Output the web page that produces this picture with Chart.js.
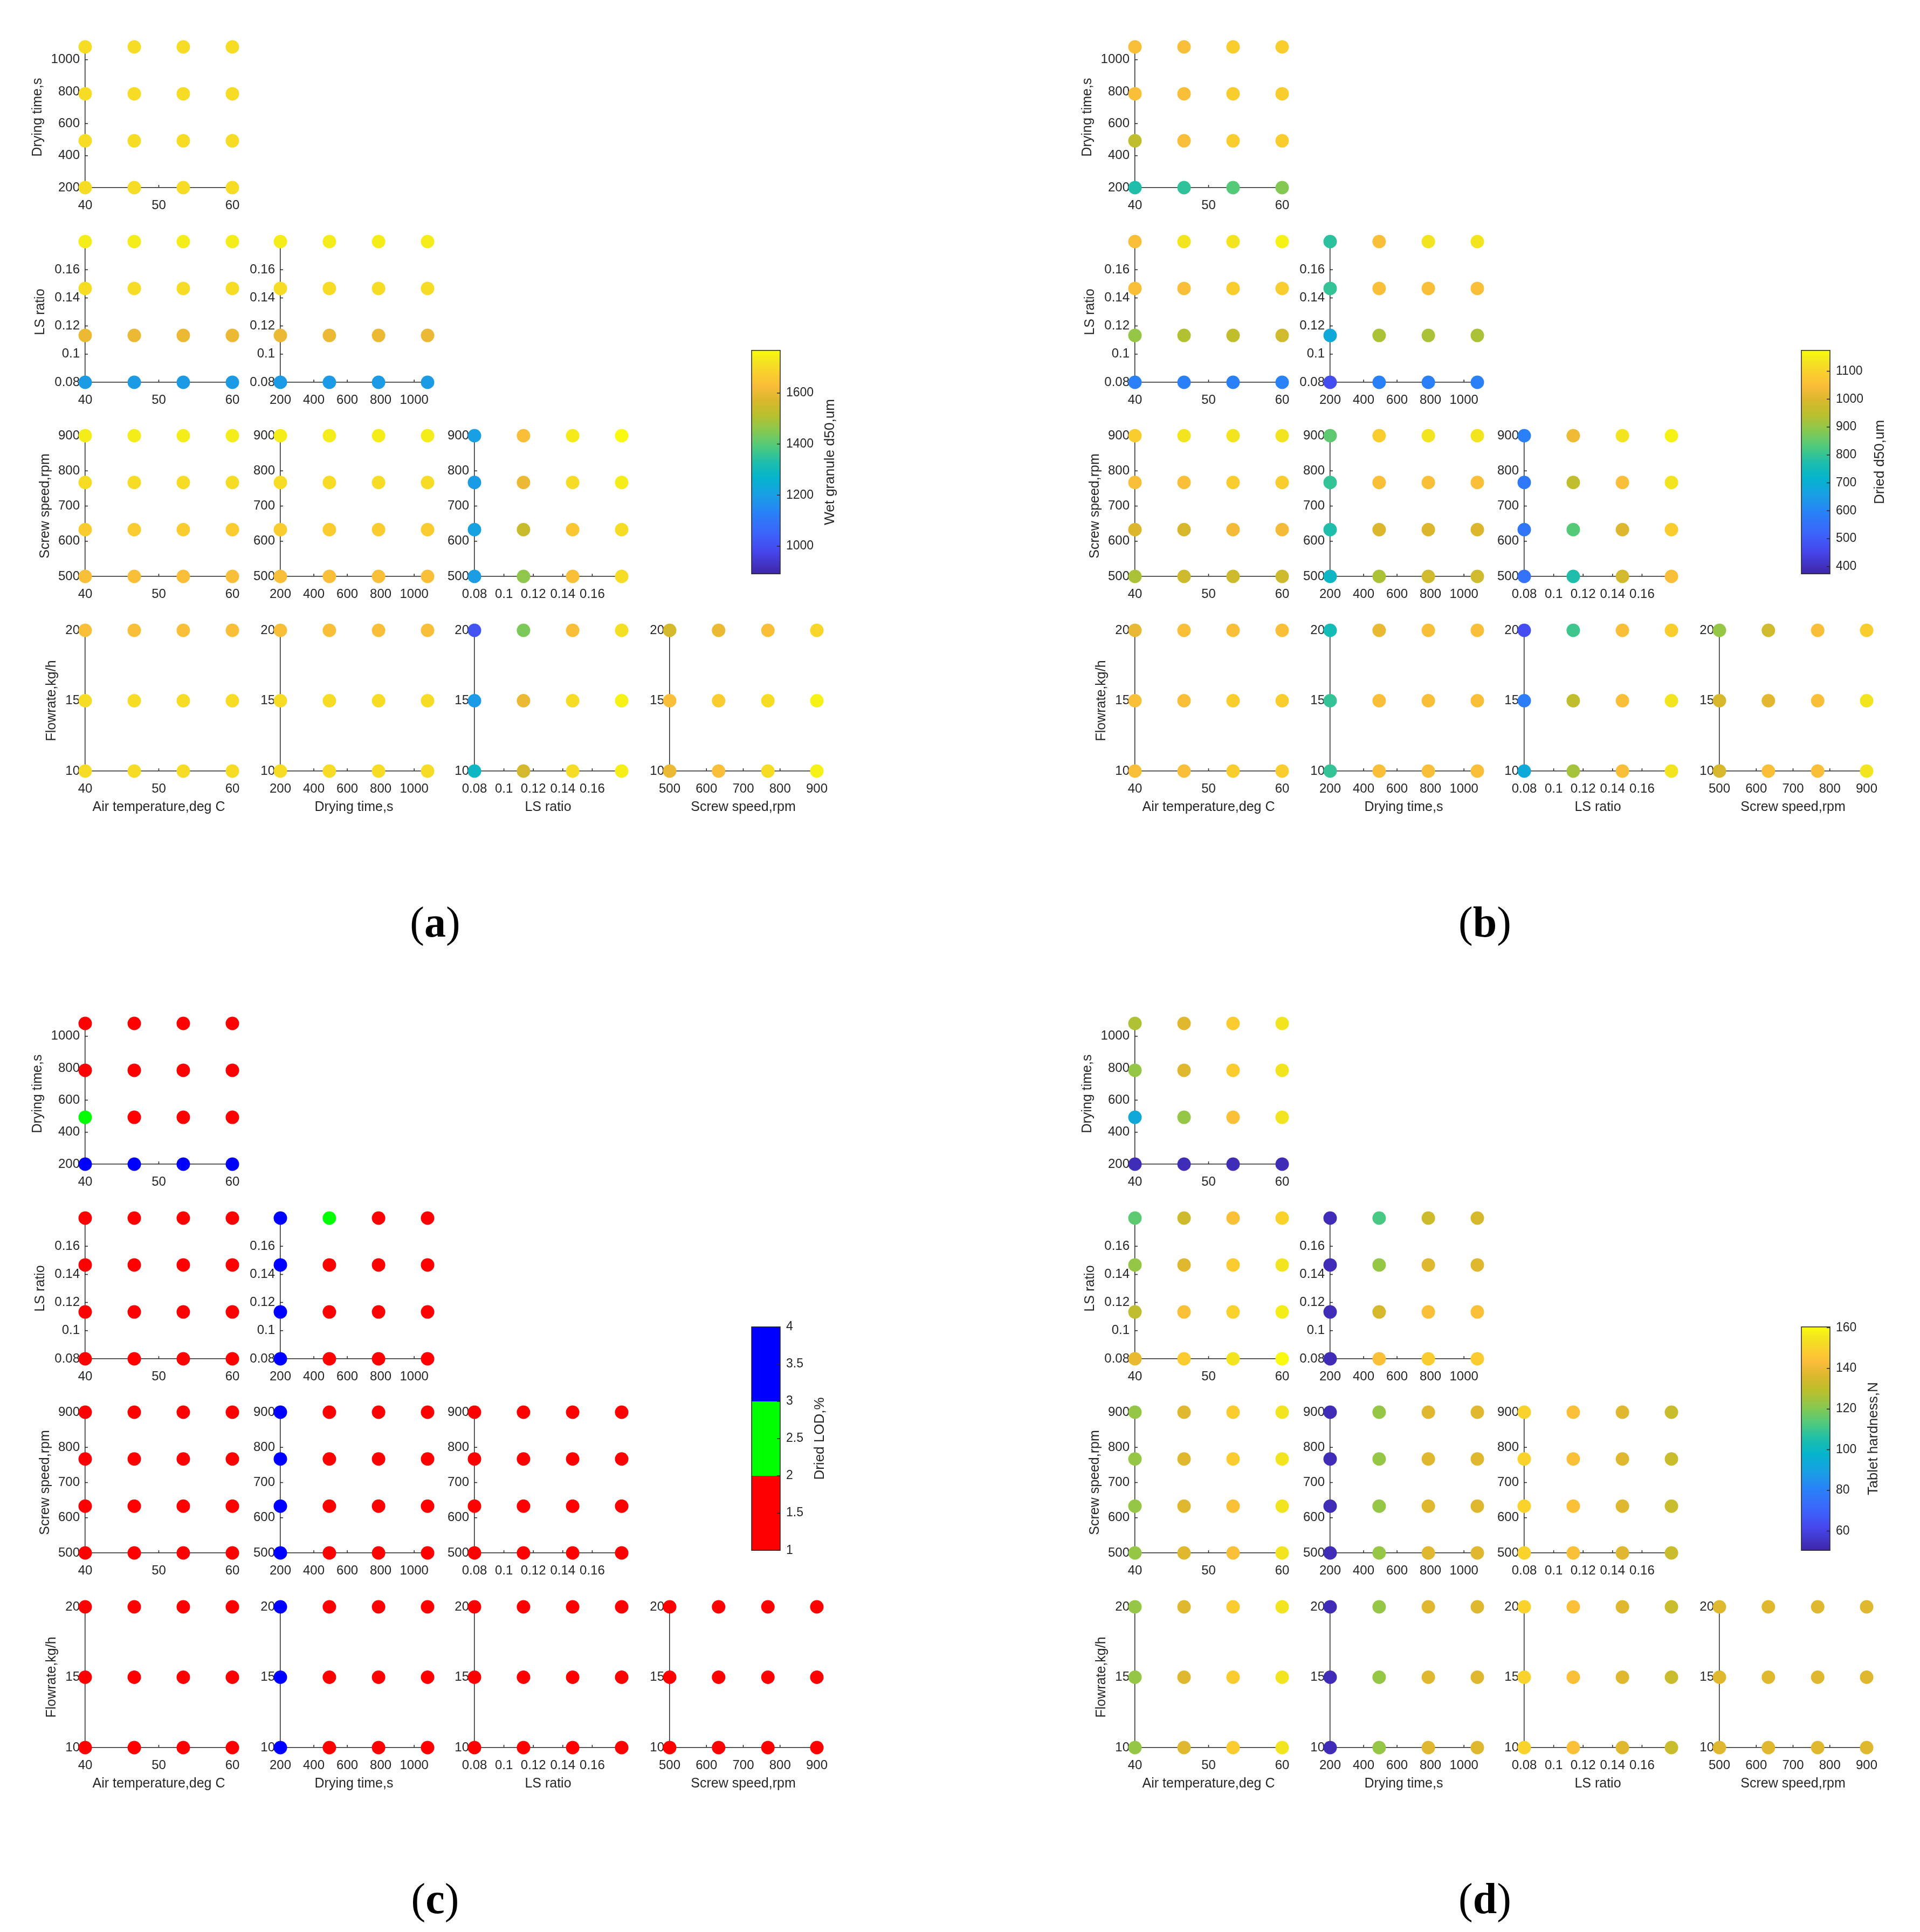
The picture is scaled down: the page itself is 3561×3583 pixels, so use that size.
<!DOCTYPE html>
<html>
<head>
<meta charset="utf-8">
<title>Scatter matrix of process factors</title>
<script src="https://cdn.jsdelivr.net/npm/chart.js@4.4.1/dist/chart.umd.min.js"></script>
<style>
  body { margin: 0; background: #fff; }
  #page { position: relative; width: 3561px; height: 3583px; overflow: hidden; background: #fff; }
  #page canvas { position: absolute; }
  .tag { position: absolute; width: 300px; text-align: center; font-family: 'Liberation Serif', 'Times New Roman', serif;
         font-size: 80px; line-height: 80px; color: #000; }
</style>
</head>
<body>
<div id="page"></div>
<script>
// factor levels (x / y positions of the grid points)
const airTemp = [40, 46.67, 53.33, 60];
const dryingTime = [200, 493, 787, 1080];
const lsRatio = [0.08, 0.1133, 0.1467, 0.18];
const screwSpeed = [500, 633, 767, 900];
const flowrate = [10, 15, 20];

// axis tick labels
const airTicks = [40, 50, 60];
const dryingTicks = [200, 400, 600, 800, 1000];
const lsTicks = [0.08, 0.1, 0.12, 0.14, 0.16];
const screwTicks = [500, 600, 700, 800, 900];
const flowTicks = [10, 15, 20];

// colorbar ticks and limits
const wetTicks = [1000, 1200, 1400, 1600];
const driedTicks = [400, 500, 600, 700, 800, 900, 1000, 1100];
const lodTicks = [1, 1.5, 2, 2.5, 3, 3.5, 4];
const hardTicks = [60, 80, 100, 120, 140, 160];
const wetRange = [892, 1767];
const driedRange = [374, 1175];
const lodRange = [1, 4];
const hardRange = [50.5, 160.4];

// responses: rows = y levels (low -> high), columns = x levels (low -> high)
// (a) wet granule d50, um
const wetDryAir = [[1705, 1705, 1705, 1705], [1705, 1705, 1705, 1705], [1705, 1705, 1705, 1705], [1705, 1705, 1705, 1705]];
const wetLsAir = [[1190, 1190, 1190, 1190], [1600, 1600, 1600, 1600], [1705, 1705, 1705, 1705], [1740, 1740, 1740, 1740]];
const wetLsDry = [[1190, 1190, 1190, 1190], [1600, 1600, 1600, 1600], [1705, 1705, 1705, 1705], [1740, 1740, 1740, 1740]];
const wetScrewAir = [[1636, 1636, 1636, 1636], [1670, 1670, 1670, 1670], [1705, 1705, 1705, 1705], [1740, 1740, 1740, 1740]];
const wetScrewDry = [[1636, 1636, 1636, 1636], [1670, 1670, 1670, 1670], [1705, 1705, 1705, 1705], [1740, 1740, 1740, 1740]];
const wetScrewLs = [[1195, 1460, 1636, 1705], [1210, 1540, 1655, 1705], [1190, 1600, 1705, 1740], [1200, 1636, 1735, 1765]];
const wetFlowAir = [[1705, 1705, 1705, 1705], [1705, 1705, 1705, 1705], [1636, 1636, 1636, 1636]];
const wetFlowDry = [[1705, 1705, 1705, 1705], [1705, 1705, 1705, 1705], [1636, 1636, 1636, 1636]];
const wetFlowLs = [[1285, 1560, 1705, 1745], [1190, 1600, 1705, 1750], [1010, 1440, 1636, 1715]];
const wetFlowScrew = [[1600, 1636, 1705, 1750], [1636, 1670, 1705, 1750], [1560, 1600, 1636, 1690]];

// (b) dried d50, um
const driedDryAir = [[775, 795, 835, 883], [955, 1055, 1087, 1087], [1055, 1055, 1087, 1087], [1055, 1055, 1087, 1087]];
const driedLsAir = [[590, 590, 590, 595], [903, 935, 955, 980], [1055, 1055, 1087, 1087], [1055, 1135, 1135, 1160]];
const driedLsDry = [[470, 590, 590, 590], [686, 927, 927, 927], [799, 1055, 1055, 1055], [790, 1055, 1135, 1135]];
const driedScrewAir = [[927, 975, 975, 975], [999, 990, 1035, 1035], [1055, 1055, 1087, 1087], [1087, 1135, 1135, 1135]];
const driedScrewDry = [[734, 927, 980, 980], [775, 999, 999, 999], [799, 1055, 1055, 1055], [845, 1087, 1135, 1135]];
const driedScrewLs = [[555, 775, 985, 1055], [565, 835, 1000, 1087], [570, 955, 1055, 1135], [590, 1030, 1135, 1160]];
const driedFlowAir = [[1055, 1055, 1087, 1087], [1055, 1055, 1087, 1087], [1020, 1055, 1055, 1055]];
const driedFlowDry = [[799, 1055, 1055, 1055], [799, 1055, 1055, 1055], [755, 1020, 1055, 1055]];
const driedFlowLs = [[686, 920, 1055, 1135], [580, 955, 1055, 1135], [470, 810, 1055, 1087]];
const driedFlowScrew = [[990, 1055, 1055, 1135], [990, 1010, 1055, 1135], [903, 980, 1055, 1087]];

// (c) dried LOD, %
const lodDryAir = [[3.5, 3.5, 3.5, 3.5], [2.5, 1.5, 1.5, 1.5], [1.5, 1.5, 1.5, 1.5], [1.5, 1.5, 1.5, 1.5]];
const lodLsAir = [[1.5, 1.5, 1.5, 1.5], [1.5, 1.5, 1.5, 1.5], [1.5, 1.5, 1.5, 1.5], [1.5, 1.5, 1.5, 1.5]];
const lodLsDry = [[3.5, 1.5, 1.5, 1.5], [3.5, 1.5, 1.5, 1.5], [3.5, 1.5, 1.5, 1.5], [3.5, 2.5, 1.5, 1.5]];
const lodScrewAir = [[1.5, 1.5, 1.5, 1.5], [1.5, 1.5, 1.5, 1.5], [1.5, 1.5, 1.5, 1.5], [1.5, 1.5, 1.5, 1.5]];
const lodScrewDry = [[3.5, 1.5, 1.5, 1.5], [3.5, 1.5, 1.5, 1.5], [3.5, 1.5, 1.5, 1.5], [3.5, 1.5, 1.5, 1.5]];
const lodScrewLs = [[1.5, 1.5, 1.5, 1.5], [1.5, 1.5, 1.5, 1.5], [1.5, 1.5, 1.5, 1.5], [1.5, 1.5, 1.5, 1.5]];
const lodFlowAir = [[1.5, 1.5, 1.5, 1.5], [1.5, 1.5, 1.5, 1.5], [1.5, 1.5, 1.5, 1.5]];
const lodFlowDry = [[3.5, 1.5, 1.5, 1.5], [3.5, 1.5, 1.5, 1.5], [3.5, 1.5, 1.5, 1.5]];
const lodFlowLs = [[1.5, 1.5, 1.5, 1.5], [1.5, 1.5, 1.5, 1.5], [1.5, 1.5, 1.5, 1.5]];
const lodFlowScrew = [[1.5, 1.5, 1.5, 1.5], [1.5, 1.5, 1.5, 1.5], [1.5, 1.5, 1.5, 1.5]];

// (d) tablet hardness, N
const hardDryAir = [[53, 53, 53, 53], [93, 123, 144, 155], [123, 137, 148, 155], [127, 137, 148, 155]];
const hardLsAir = [[139, 148, 155, 160], [130, 144, 150, 157], [123, 137, 148, 155], [115, 133, 144, 150]];
const hardLsDry = [[53, 144, 148, 148], [53, 135, 144, 144], [53, 123, 137, 137], [53, 112, 133, 135]];
const hardScrewAir = [[123, 137, 144, 155], [123, 137, 144, 155], [123, 137, 148, 155], [123, 137, 148, 155]];
const hardScrewDry = [[53, 123, 137, 137], [53, 123, 137, 137], [53, 123, 137, 137], [53, 123, 137, 137]];
const hardScrewLs = [[150, 144, 137, 132], [150, 144, 137, 132], [150, 144, 137, 132], [150, 144, 137, 132]];
const hardFlowAir = [[123, 137, 148, 155], [123, 137, 148, 155], [123, 137, 148, 155]];
const hardFlowDry = [[53, 123, 137, 137], [53, 123, 137, 137], [53, 123, 137, 137]];
const hardFlowLs = [[150, 144, 137, 132], [150, 144, 137, 132], [150, 144, 137, 132]];
const hardFlowScrew = [[137, 137, 137, 137], [137, 137, 137, 137], [137, 137, 137, 137]];

const FONT = "'Liberation Sans', Arial, Helvetica, sans-serif";
const INK = '#262626';

// parula-like colormap
const PARULA = [
  [0, [62, 38, 168]], [0.10, [70, 70, 235]], [0.18, [60, 100, 250]], [0.27, [42, 128, 248]],
  [0.35, [25, 158, 228]], [0.43, [5, 180, 205]], [0.50, [30, 190, 170]], [0.57, [80, 202, 125]],
  [0.64, [135, 200, 80]], [0.71, [185, 192, 45]], [0.78, [220, 183, 45]], [0.84, [250, 188, 58]],
  [0.90, [250, 208, 45]], [0.95, [243, 228, 32]], [1, [249, 251, 14]]
];
const PARULA_STOPS = PARULA.map(([t, c]) => [t, `rgb(${c.join(',')})`]);
const LOD_COLORS = ['#ff0000', '#00ff00', '#0000ff'];
const LOD_STOPS = [[0, '#ff0000'], [1 / 3, '#ff0000'], [1 / 3, '#00ff00'], [2 / 3, '#00ff00'], [2 / 3, '#0000ff'], [1, '#0000ff']];

function parula(v, range) {
  const t = Math.min(1, Math.max(0, (v - range[0]) / (range[1] - range[0])));
  for (let i = 1; i < PARULA.length; i++) {
    const [t1, c1] = PARULA[i];
    if (t <= t1) {
      const [t0, c0] = PARULA[i - 1];
      const f = (t - t0) / (t1 - t0);
      return `rgb(${c0.map((c, k) => Math.round(c + (c1[k] - c) * f)).join(',')})`;
    }
  }
  return 'rgb(249,251,14)';
}

function lodColor(v, range) {
  const i = Math.floor((v - range[0]) / (range[1] - range[0]) * 3);
  return LOD_COLORS[Math.min(2, Math.max(0, i))];
}

const FACTORS = {
  air: { levels: airTemp, ticks: airTicks, title: 'Air temperature,deg C' },
  drying: { levels: dryingTime, ticks: dryingTicks, title: 'Drying time,s' },
  ls: { levels: lsRatio, ticks: lsTicks, title: 'LS ratio' },
  screw: { levels: screwSpeed, ticks: screwTicks, title: 'Screw speed,rpm' },
  flow: { levels: flowrate, ticks: flowTicks, title: 'Flowrate,kg/h' }
};
const ROW_VARS = ['drying', 'ls', 'screw', 'flow'];
const COL_VARS = ['air', 'drying', 'ls', 'screw'];

const PANELS = [
  { tag: 'a', dx: 0, dy: 0, cmap: parula, stops: PARULA_STOPS, range: wetRange, ticks: wetTicks, label: 'Wet granule d50,um',
    grids: [[wetDryAir], [wetLsAir, wetLsDry], [wetScrewAir, wetScrewDry, wetScrewLs], [wetFlowAir, wetFlowDry, wetFlowLs, wetFlowScrew]] },
  { tag: 'b', dx: 1947, dy: 0, cmap: parula, stops: PARULA_STOPS, range: driedRange, ticks: driedTicks, label: 'Dried d50,um',
    grids: [[driedDryAir], [driedLsAir, driedLsDry], [driedScrewAir, driedScrewDry, driedScrewLs], [driedFlowAir, driedFlowDry, driedFlowLs, driedFlowScrew]] },
  { tag: 'c', dx: 0, dy: 1811, cmap: lodColor, stops: LOD_STOPS, range: lodRange, ticks: lodTicks, label: 'Dried LOD,%',
    grids: [[lodDryAir], [lodLsAir, lodLsDry], [lodScrewAir, lodScrewDry, lodScrewLs], [lodFlowAir, lodFlowDry, lodFlowLs, lodFlowScrew]] },
  { tag: 'd', dx: 1947, dy: 1811, cmap: parula, stops: PARULA_STOPS, range: hardRange, ticks: hardTicks, label: 'Tablet hardness,N',
    grids: [[hardDryAir], [hardLsAir, hardLsDry], [hardScrewAir, hardScrewDry, hardScrewLs], [hardFlowAir, hardFlowDry, hardFlowLs, hardFlowScrew]] }
];

// layout (page pixels, panel a)
const COL_LEFT = [158, 520, 880, 1242];
const ROW_TOP = [87, 448, 808, 1169];
const AX_W = 273, AX_H = 261;
const PAD_L = 140, PAD_T = 30, PAD_R = 40, PAD_B = 100;
const YTITLE_GAP = [88, 83, 74, 62];
const CB_LEFT = 1394, CB_TOP = 645, CB_W = 53, CB_H = 424;

const page = document.getElementById('page');

function makeCanvas(left, top, w, h) {
  const c = document.createElement('canvas');
  c.width = w; c.height = h;
  c.style.left = left + 'px'; c.style.top = top + 'px';
  c.style.width = w + 'px'; c.style.height = h + 'px';
  page.appendChild(c);
  return c;
}

// small tick marks pointing into the axes
const innerTicks = {
  id: 'innerTicks',
  beforeDatasetsDraw(chart) {
    const { ctx, chartArea: a, scales: { x, y } } = chart;
    ctx.save();
    ctx.strokeStyle = INK;
    ctx.lineWidth = 1.5;
    ctx.beginPath();
    x.ticks.forEach(t => { const px = x.getPixelForValue(t.value); ctx.moveTo(px, a.bottom); ctx.lineTo(px, a.bottom - 5); });
    y.ticks.forEach(t => { const py = y.getPixelForValue(t.value); ctx.moveTo(a.left, py); ctx.lineTo(a.left + 5, py); });
    ctx.stroke();
    ctx.restore();
  }
};

// frame, inner ticks and rotated label of the colorbar
const colorbarDeco = {
  id: 'colorbarDeco',
  afterDraw(chart, args, opts) {
    const { ctx, chartArea: a, scales: { y } } = chart;
    ctx.save();
    ctx.strokeStyle = INK;
    ctx.lineWidth = 1.5;
    ctx.strokeRect(a.left, a.top, a.right - a.left, a.bottom - a.top);
    ctx.beginPath();
    y.ticks.forEach(t => { const py = y.getPixelForValue(t.value); ctx.moveTo(a.right, py); ctx.lineTo(a.right - 6, py); });
    ctx.stroke();
    ctx.font = `23px ${FONT}`;
    const widest = Math.max(...y.ticks.map(t => ctx.measureText(String(t.label)).width));
    ctx.translate(a.right + 11 + widest + 31, (a.top + a.bottom) / 2);
    ctx.rotate(-Math.PI / 2);
    ctx.font = `26px ${FONT}`;
    ctx.fillStyle = INK;
    ctx.textAlign = 'center';
    ctx.textBaseline = 'middle';
    ctx.fillText(opts.text, 0, 0);
    ctx.restore();
  }
};

function axisOpts(f, horiz, showTitle, row) {
  return {
    type: 'linear',
    min: f.levels[0],
    max: f.levels[f.levels.length - 1],
    afterBuildTicks: s => { s.ticks = f.ticks.map(v => ({ value: v })); },
    afterFit: s => { if (horiz) s.height = PAD_B; else s.width = PAD_L; },
    grid: { display: false, drawTicks: false },
    border: { display: true, color: INK, width: 1.5 },
    ticks: {
      color: INK, font: { family: FONT, size: 24 }, padding: horiz ? 19 : 10,
      autoSkip: false, maxRotation: 0, minRotation: 0, callback: v => String(v)
    },
    title: {
      display: showTitle, text: f.title, color: INK, font: { family: FONT, size: 25 },
      padding: horiz ? { top: 0, bottom: PAD_B - 67 - 15 } : { top: PAD_L - YTITLE_GAP[row] - 15, bottom: 0 }
    }
  };
}

function subplot(p, r, c) {
  const fx = FACTORS[COL_VARS[c]], fy = FACTORS[ROW_VARS[r]];
  const grid = p.grids[r][c];
  const pts = [];
  fy.levels.forEach((yv, i) => fx.levels.forEach((xv, j) => pts.push({ x: xv, y: yv, v: grid[i][j] })));
  const canvas = makeCanvas(p.dx + COL_LEFT[c] - PAD_L, p.dy + ROW_TOP[r] - PAD_T,
    PAD_L + AX_W + PAD_R, PAD_T + AX_H + PAD_B);
  new Chart(canvas, {
    type: 'scatter',
    data: {
      datasets: [{
        data: pts,
        backgroundColor: pts.map(d => p.cmap(d.v, p.range)),
        pointRadius: 12.5,
        pointBorderWidth: 0,
        clip: false
      }]
    },
    options: {
      responsive: false, animation: false, devicePixelRatio: 1, events: [],
      layout: { padding: { left: 0, top: PAD_T, right: PAD_R, bottom: 0 } },
      plugins: { legend: { display: false }, tooltip: { enabled: false } },
      scales: {
        x: axisOpts(fx, true, r === 3, r),
        y: axisOpts(fy, false, c === 0, r)
      }
    },
    plugins: [innerTicks]
  });
}

function colorbar(p) {
  const canvas = makeCanvas(p.dx + CB_LEFT - 10, p.dy + CB_TOP - 20, 10 + CB_W + 170, CB_H + 40);
  new Chart(canvas, {
    type: 'bar',
    data: {
      labels: [p.label],
      datasets: [{
        data: [p.range],
        backgroundColor: ctx => {
          const a = ctx.chart.chartArea;
          if (!a) return 'transparent';
          const g = ctx.chart.ctx.createLinearGradient(0, a.bottom, 0, a.top);
          p.stops.forEach(([t, col]) => g.addColorStop(t, col));
          return g;
        },
        barPercentage: 1,
        categoryPercentage: 1,
        borderWidth: 0
      }]
    },
    options: {
      responsive: false, animation: false, devicePixelRatio: 1, events: [],
      layout: { padding: { left: 10, top: 20, right: 0, bottom: 20 } },
      plugins: { legend: { display: false }, tooltip: { enabled: false }, colorbarDeco: { text: p.label } },
      scales: {
        x: { display: false },
        y: {
          position: 'right',
          min: p.range[0], max: p.range[1],
          afterBuildTicks: s => { s.ticks = p.ticks.map(v => ({ value: v })); },
          afterFit: s => { s.width = 170; },
          grid: { display: false, drawTicks: false },
          border: { display: false },
          ticks: { color: INK, font: { family: FONT, size: 23 }, padding: 11, callback: v => String(v) }
        }
      }
    },
    plugins: [colorbarDeco]
  });
}

PANELS.forEach(p => {
  for (let r = 0; r < 4; r++) {
    for (let c = 0; c <= r; c++) subplot(p, r, c);
  }
  colorbar(p);
  const tag = document.createElement('div');
  tag.className = 'tag';
  tag.style.left = (p.dx + 807 - 150) + 'px';
  tag.style.top = (p.dy + 1670) + 'px';
  tag.innerHTML = `(<b>${p.tag}</b>)`;
  page.appendChild(tag);
});
</script>
</body>
</html>
